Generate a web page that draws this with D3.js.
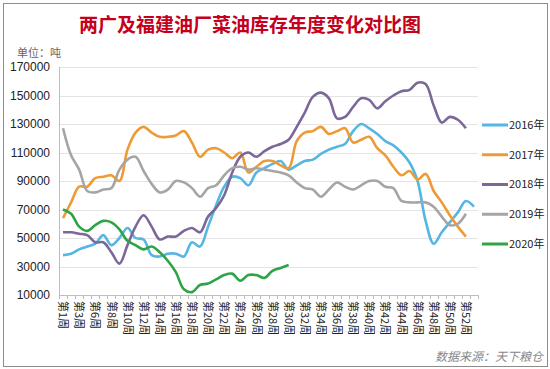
<!DOCTYPE html>
<html>
<head>
<meta charset="utf-8">
<script src="https://cdn.jsdelivr.net/npm/d3@7.9.0/dist/d3.min.js"></script>
<style>
  body { margin: 0; background: #fff; }
  svg { display: block; font-family: "Liberation Sans", Arial, "Noto Sans CJK SC", sans-serif; }
</style>
</head>
<body>
<svg width="550" height="369"></svg>
<script>
// week categories (week 4 missing in the source, week 53 unlabeled)
const weeks = ['第1周', '第2周', '第3周', '第5周', '第6周', '第7周', '第8周', '第9周', '第10周',
  '第11周', '第12周', '第13周', '第14周', '第15周', '第16周', '第17周', '第18周', '第19周',
  '第20周', '第21周', '第22周', '第23周', '第24周', '第25周', '第26周', '第27周', '第28周',
  '第29周', '第30周', '第31周', '第32周', '第33周', '第34周', '第35周', '第36周', '第37周',
  '第38周', '第39周', '第40周', '第41周', '第42周', '第43周', '第44周', '第45周', '第46周',
  '第47周', '第48周', '第49周', '第50周', '第51周', '第52周', '第53周'];

const years = ['2016年', '2017年', '2018年', '2019年', '2020年'];
const colors = ['#55b6e4', '#ee9b35', '#7b6898', '#a5a5a5', '#2ea446'];

const stock2016 = [38000, 39000, 42000, 44000, 46000, 52000, 45000, 50000, 57000, 50000,
  49000, 38000, 37000, 39000, 39000, 37000, 47000, 44000, 58000, 73000,
  86000, 93000, 92000, 87000, 96000, 99000, 102000, 104000, 98000, 101000,
  104000, 105000, 109000, 112000, 114000, 116000, 125000, 130000, 127000, 123000,
  118000, 115000, 110000, 103000, 90000, 62000, 46000, 54000, 61000, 68000,
  76000, 72000];
const stock2017 = [64000, 75000, 86000, 86000, 92000, 93000, 94000, 90000, 112000, 124000,
  128000, 124000, 121000, 121000, 122000, 125000, 117000, 107000, 112000, 113000,
  110000, 106000, 110000, 96000, 100000, 104000, 104000, 101000, 99000, 118000,
  124000, 125000, 128000, 123000, 125000, 127000, 117000, 119000, 121000, 113000,
  108000, 100000, 94000, 97000, 91000, 95000, 83000, 75000, 66000, 58000,
  51000];
const stock2018 = [54000, 54000, 53000, 52000, 47000, 47000, 40000, 32000, 45000, 58000,
  66000, 58000, 49000, 51000, 51000, 55000, 57000, 54000, 65000, 71000,
  80000, 96000, 107000, 110000, 107000, 111000, 114000, 116000, 119000, 128000,
  138000, 149000, 152000, 148000, 134000, 135000, 142000, 148000, 147000, 141000,
  146000, 150000, 153000, 154000, 159000, 158000, 143000, 131000, 135000, 133000,
  127000];
const stock2019 = [127000, 108000, 98000, 83000, 82000, 84000, 85000, 98000, 105000, 107000,
  97000, 88000, 82000, 84000, 90000, 89000, 85000, 79000, 85000, 87000,
  94000, 99000, 100000, 98000, 99000, 98000, 97000, 96000, 94000, 89000,
  85000, 84000, 79000, 84000, 89000, 86000, 84000, 87000, 90000, 90000,
  86000, 85000, 76000, 75000, 75000, 75000, 72000, 65000, 59000, 60000,
  67000];
const stock2020 = [70000, 67000, 58000, 55000, 59000, 62000, 61000, 56000, 48000, 45000,
  42000, 44000, 40000, 34000, 26000, 14000, 12000, 17000, 18000, 21000,
  24000, 25000, 20000, 24000, 24000, 22000, 27000, 29000, 31000];

const yTicks = [10000, 30000, 50000, 70000, 90000, 110000, 130000, 150000, 170000];

const series = [stock2016, stock2017, stock2018, stock2019, stock2020];

const svg = d3.select('svg');

// outer frame
svg.append('rect')
  .attr('x', 3.5).attr('y', 3.5)
  .attr('width', 544).attr('height', 363)
  .attr('fill', '#fff')
  .attr('stroke', '#8c8c8c');

// title + unit
svg.append('text')
  .attr('x', 250).attr('y', 32)
  .attr('text-anchor', 'middle')
  .attr('fill', '#c4001c')
  .attr('font-size', 19)
  .attr('font-weight', 'bold')
  .attr('font-family', '"Noto Sans CJK SC", sans-serif')
  .text('两广及福建油厂菜油库存年度变化对比图');

svg.append('text')
  .attr('x', 17).attr('y', 57)
  .attr('fill', '#666')
  .attr('font-size', 11)
  .attr('font-family', '"Noto Sans CJK SC", sans-serif')
  .text('单位：吨');

let x = d3.scaleBand().domain(weeks).range([59, 478]);
let y = d3.scaleLinear().domain([10000, 170000]).range([295, 67]);
const cx = (i) => x(weeks[i]) + x.bandwidth() / 2;

// grid
svg.append('g')
  .selectAll('line')
  .data(yTicks.slice(1))
  .join('line')
  .attr('x1', 59).attr('x2', 478)
  .attr('y1', (d) => Math.round(y(d)) + 0.5)
  .attr('y2', (d) => Math.round(y(d)) + 0.5)
  .attr('stroke', '#e4e4e4');

// y labels
svg.append('g')
  .selectAll('text')
  .data(yTicks)
  .join('text')
  .attr('x', 50)
  .attr('y', (d) => y(d))
  .attr('dy', '0.35em')
  .attr('text-anchor', 'end')
  .attr('font-size', 12)
  .attr('fill', '#222')
  .text((d) => d);

// axes lines
svg.append('line')
  .attr('x1', 59.5).attr('x2', 59.5)
  .attr('y1', y(170000)).attr('y2', y(10000))
  .attr('stroke', '#bdbdbd');

svg.append('line')
  .attr('x1', 59).attr('x2', 478)
  .attr('y1', 295.5).attr('y2', 295.5)
  .attr('stroke', '#bdbdbd');

// tick marks on every category boundary
svg.append('g')
  .selectAll('line')
  .data(weeks.concat(['end']))
  .join('line')
  .attr('x1', (d, i) => Math.round(59 + i * x.bandwidth()) + 0.5)
  .attr('x2', (d, i) => Math.round(59 + i * x.bandwidth()) + 0.5)
  .attr('y1', 295).attr('y2', 299)
  .attr('stroke', '#bdbdbd');

// x labels, every other week, rotated
svg.append('g')
  .selectAll('text')
  .data(weeks.filter((d, i) => i % 2 === 0))
  .join('text')
  .attr('transform', (d) => `translate(${x(d) + x.bandwidth() / 2},301) rotate(90)`)
  .attr('dy', '0.35em')
  .attr('font-size', 11)
  .attr('fill', '#222')
  .attr('font-family', '"Noto Sans CJK SC", sans-serif')
  .text((d) => d);

// lines
let line = d3.line()
  .x((d, i) => cx(i))
  .y((d) => y(d))
  .curve(d3.curveCatmullRom.alpha(0.5));

series.forEach((s, i) => {
  svg.append('path')
    .attr('d', line(s))
    .attr('fill', 'none')
    .attr('stroke', colors[i])
    .attr('stroke-width', 2.6)
    .attr('stroke-linejoin', 'round');
});

// legend
let ly = d3.scalePoint().domain(years).range([125, 244]);
let legend = svg.append('g');
years.forEach((yr, i) => {
  legend.append('line')
    .attr('x1', 482).attr('x2', 508)
    .attr('y1', ly(yr)).attr('y2', ly(yr))
    .attr('stroke', colors[i])
    .attr('stroke-width', 3);
  legend.append('text')
    .attr('x', 509).attr('y', ly(yr))
    .attr('dy', '0.35em')
    .attr('font-size', 11)
    .attr('fill', '#222')
    .attr('font-family', '"Noto Sans CJK SC", sans-serif')
    .text(yr);
});

// source note
svg.append('text')
  .attr('x', 543).attr('y', 361)
  .attr('text-anchor', 'end')
  .attr('font-size', 12)
  .attr('font-style', 'italic')
  .attr('fill', '#888')
  .attr('font-family', '"Noto Sans CJK SC", sans-serif')
  .text('数据来源：天下粮仓');
</script>
</body>
</html>
